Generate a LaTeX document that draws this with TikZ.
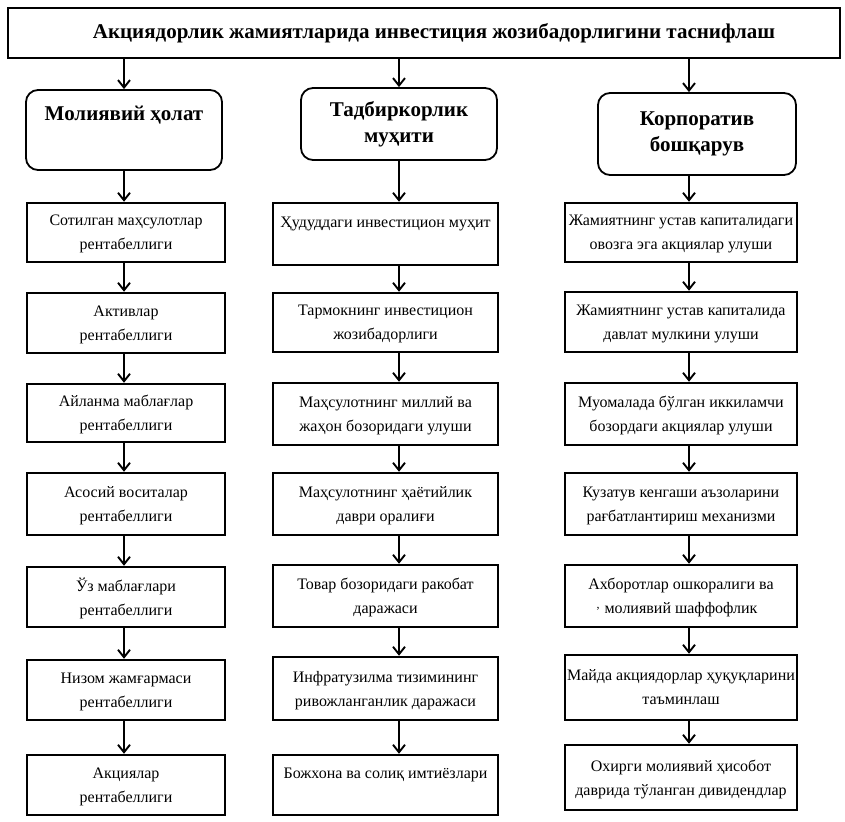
\documentclass[tikz,border=0pt]{standalone}
\usepackage{fontspec}
\setmainfont{Liberation Serif}
\usetikzlibrary{arrows.meta}
\begin{document}
\begin{tikzpicture}[x=1pt,y=-1pt,
  box/.style={draw, line width=2.5pt, align=center, inner sep=0pt, font=\fontsize{16}{24}\selectfont, text depth=0pt},
  head/.style={draw, line width=1.8pt, rounded corners=12pt, align=center, inner sep=0pt, font=\bfseries\fontsize{21}{26}\selectfont},
  ttl/.style={draw, line width=2.6pt, align=center, inner sep=0pt, font=\bfseries\fontsize{21}{26}\selectfont},
  arr/.style={line width=1.9pt, -{Straight Barb[length=7.5pt,width=12pt]}}
]
\useasboundingbox (0,0) rectangle (845,821);
\coordinate (ax1) at (124,0);
\coordinate (ax2) at (399,0);
\coordinate (ax3) at (689,0);

\node[ttl, minimum width=832pt, minimum height=50pt] (title) at (424,33) {\hspace*{20pt}Акциядорлик жамиятларида инвестиция жозибадорлигини таснифлаш};

\node[head, minimum width=196pt, minimum height=80pt] (h1) at (124,130) {Молиявий ҳолат\\\strut};
\node[head, minimum width=196pt, minimum height=72pt] (h2) at (399,124) {Тадбиркорлик\\муҳити};
\node[head, minimum width=198pt, minimum height=82pt] (h3) at (697,134) {Корпоратив\\бошқарув};

% column 1
\node[box, minimum width=198pt, minimum height=59pt] (a1) at (126,232.5) {Сотилган маҳсулотлар\\рентабеллиги};
\node[box, minimum width=198pt, minimum height=60pt] (a2) at (126,323) {Активлар\\рентабеллиги};
\node[box, minimum width=198pt, minimum height=58pt] (a3) at (126,413) {Айланма маблағлар\\рентабеллиги};
\node[box, minimum width=198pt, minimum height=62pt] (a4) at (126,504) {Асосий воситалар\\рентабеллиги};
\node[box, minimum width=198pt, minimum height=60pt] (a5) at (126,597) {Ўз маблағлари\\рентабеллиги};
\node[box, minimum width=198pt, minimum height=60pt] (a6) at (126,690) {Низом жамғармаси\\рентабеллиги};
\node[box, minimum width=198pt, minimum height=60pt] (a7) at (126,785) {Акциялар\\рентабеллиги};

% column 2
\node[box, minimum width=225pt, minimum height=62pt] (b1) at (385.5,234) {Ҳудуддаги инвестицион муҳит\\\strut};
\node[box, minimum width=225pt, minimum height=59pt] (b2) at (385.5,322.5) {Тармокнинг инвестицион\\жозибадорлиги};
\node[box, minimum width=225pt, minimum height=62pt] (b3) at (385.5,414) {Маҳсулотнинг миллий ва\\жаҳон бозоридаги улуши};
\node[box, minimum width=225pt, minimum height=62pt] (b4) at (385.5,504) {Маҳсулотнинг ҳаётийлик\\даври оралиғи};
\node[box, minimum width=225pt, minimum height=62pt] (b5) at (385.5,596) {Товар бозоридаги ракобат\\даражаси};
\node[box, minimum width=225pt, minimum height=63pt] (b6) at (385.5,688.5) {Инфратузилма тизимининг\\ривожланганлик даражаси};
\node[box, minimum width=225pt, minimum height=60pt] (b7) at (385.5,785) {Божхона ва солиқ имтиёзлари\\\strut};

% column 3
\node[box, minimum width=232pt, minimum height=59pt] (c1) at (681,232.5) {Жамиятнинг устав капиталидаги\\овозга эга акциялар улуши};
\node[box, minimum width=232pt, minimum height=60pt] (c2) at (681,322) {Жамиятнинг устав капиталида\\давлат мулкини улуши};
\node[box, minimum width=232pt, minimum height=62pt] (c3) at (681,414) {Муомалада бўлган иккиламчи\\бозордаги акциялар улуши};
\node[box, minimum width=232pt, minimum height=62pt] (c4) at (681,504) {Кузатув кенгаши аъзоларини\\рағбатлантириш механизми};
\node[box, minimum width=232pt, minimum height=62pt] (c5) at (681,596) {Ахборотлар ошкоралиги ва\\молиявий шаффофлик};
\node[box, minimum width=232pt, minimum height=65pt] (c6) at (681,687.5) {Майда акциядорлар ҳуқуқларини\\таъминлаш};
\node[box, minimum width=232pt, minimum height=65pt] (c7) at (681,777.5) {Охирги молиявий ҳисобот\\даврида тўланган дивидендлар};

\node[inner sep=0pt, font=\fontsize{12}{12}\selectfont] (cm) at (598,609) {,};

% arrows title -> headers
\draw[arr] (title.south -| ax1) -- (h1.north -| ax1);
\draw[arr] (title.south -| ax2) -- (h2.north -| ax2);
\draw[arr] (title.south -| ax3) -- (h3.north -| ax3);
% headers -> first rows
\draw[arr] (h1.south -| ax1) -- (a1.north -| ax1);
\draw[arr] (h2.south -| ax2) -- (b1.north -| ax2);
\draw[arr] (h3.south -| ax3) -- (c1.north -| ax3);
% rows
\foreach \p/\q in {a1/a2,a2/a3,a3/a4,a4/a5,a5/a6,a6/a7}
  \draw[arr] (\p.south -| ax1) -- (\q.north -| ax1);
\foreach \p/\q in {b1/b2,b2/b3,b3/b4,b4/b5,b5/b6,b6/b7}
  \draw[arr] (\p.south -| ax2) -- (\q.north -| ax2);
\foreach \p/\q in {c1/c2,c2/c3,c3/c4,c4/c5,c5/c6,c6/c7}
  \draw[arr] (\p.south -| ax3) -- (\q.north -| ax3);
\end{tikzpicture}
\end{document}
